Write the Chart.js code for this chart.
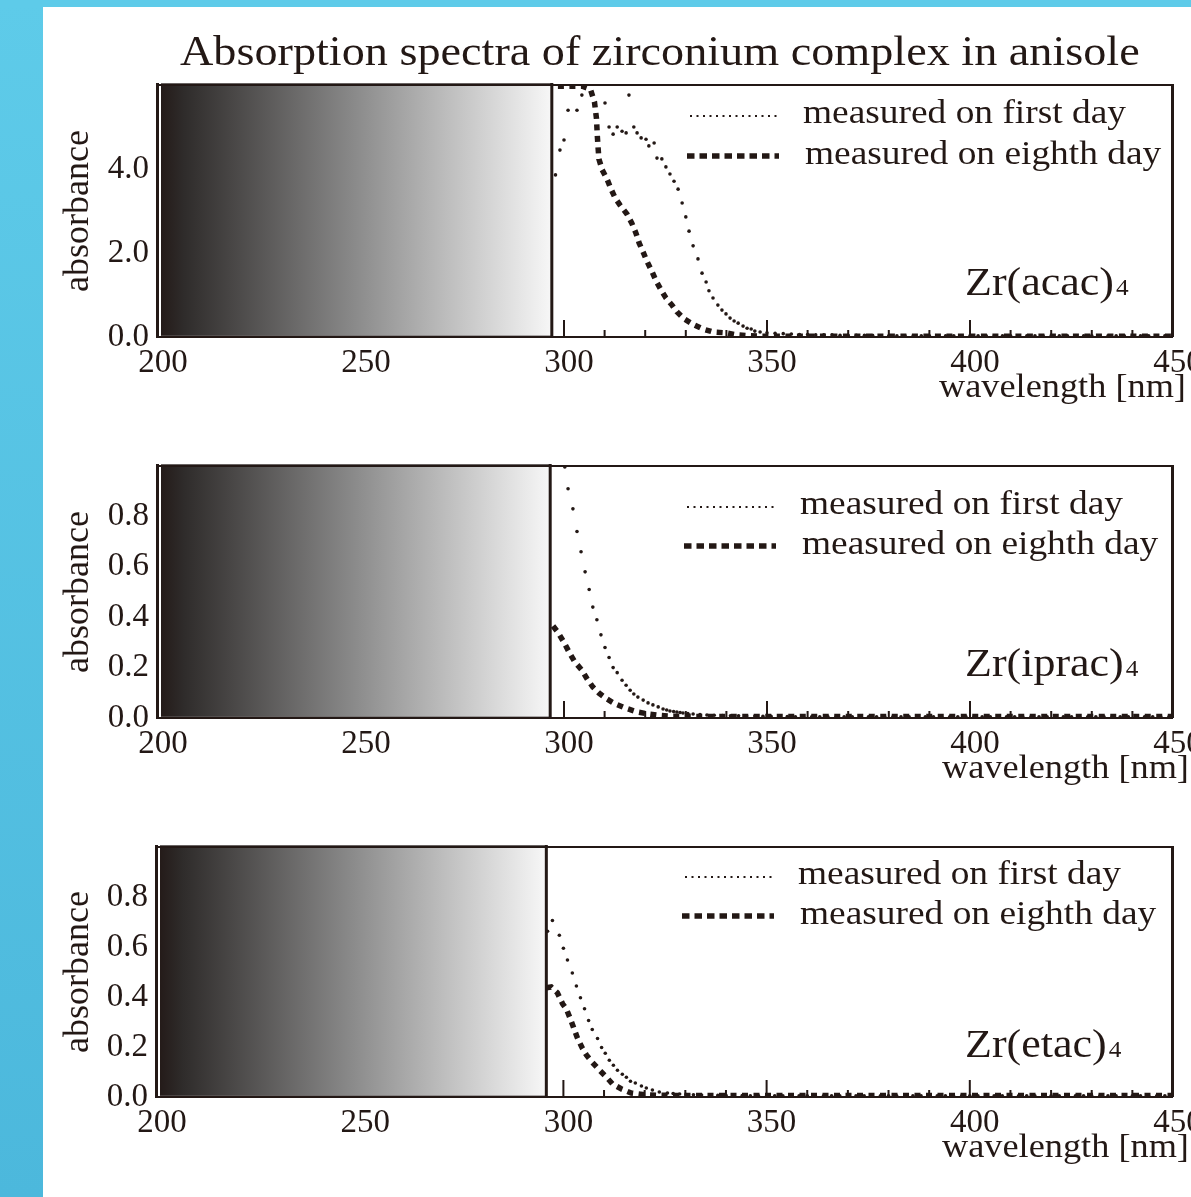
<!DOCTYPE html>
<html><head><meta charset="utf-8">
<title>Absorption spectra of zirconium complex in anisole</title>
<script src="https://cdn.jsdelivr.net/npm/chart.js@4.4.1/dist/chart.umd.min.js"></script>
<style>
html,body{margin:0;padding:0;background:#fff;width:1191px;height:1197px;overflow:hidden;position:relative}
.blue-left{position:absolute;left:0;top:0;width:43px;height:1197px;background:linear-gradient(180deg,#5ecbe9 0%,#4cb8dc 100%)}
.blue-top{position:absolute;left:0;top:0;width:1191px;height:7px;background:#5ecbe9}
canvas{position:absolute;left:0}
</style></head><body>
<div class="blue-left"></div><div class="blue-top"></div>
<canvas id="c1" width="1191" height="420" style="top:0;width:1191px;height:420px"></canvas>
<canvas id="c2" width="1191" height="380" style="top:420px;width:1191px;height:380px"></canvas>
<canvas id="c3" width="1191" height="397" style="top:800px;width:1191px;height:397px"></canvas>
<script>
// ---------------- DATA ----------------
const titleText = 'Absorption spectra of zirconium complex in anisole';
const seriesLabels = ['measured on first day', 'measured on eighth day'];
const xTitle = 'wavelength [nm]';
const yTitle = 'absorbance';
const compounds = ['Zr(acac)', 'Zr(iprac)', 'Zr(etac)'];
const compoundSub = '4';
const xRange = [200, 450];
const xTickStep = 50;
const yMaxes = [6, 1, 1];
const yTickSteps = [2, 0.2, 0.2];
const solventCutoff = [297.0, 296.6, 295.8];

// Zr(acac)4
const acacDay1Nm = [297.9, 299.0, 300.0, 301.0, 303.2, 304.4, 310.1, 311.1, 312.1, 313.1,
  314.3, 315.3, 316.0, 317.2, 318.0, 319.0, 320.2, 320.9, 322.2, 322.9,
  324.1, 325.1, 326.1, 327.1, 328.1, 329.1, 330.0, 330.8, 331.8, 333.0,
  334.0, 335.0, 335.7, 336.7, 337.9, 338.9, 339.9, 340.9, 341.9, 342.9,
  344.1, 345.1, 346.1, 347.0, 348.3,
  350, 352, 354, 356, 358, 360, 362, 364, 366, 368,
  370, 372, 374, 376, 378, 380, 382, 384, 386, 388,
  390, 392, 394, 396, 398, 400, 402, 404, 406, 408,
  410, 412, 414, 416, 418, 420, 422, 424, 426, 428,
  430, 432, 434, 436, 438, 440, 442, 444, 446, 448,
  450];
const acacDay1Abs = [3.86, 4.45, 4.69, 5.40, 5.40, 5.76, 5.57, 5.00, 4.83, 5.00,
  4.90, 4.86, 5.76, 5.00, 4.86, 4.74, 4.71, 4.55, 4.62, 4.26,
  4.24, 4.05, 3.88, 3.71, 3.52, 3.19, 2.86, 2.52, 2.17, 1.86,
  1.52, 1.31, 1.10, 0.93, 0.76, 0.64, 0.55, 0.45, 0.38, 0.33,
  0.26, 0.21, 0.19, 0.14, 0.12,
  0.10, 0.09, 0.08, 0.07, 0.06, 0.06, 0.05, 0.05, 0.05, 0.04,
  0.04, 0.04, 0.04, 0.04, 0.03, 0.03, 0.03, 0.03, 0.03, 0.03,
  0.03, 0.03, 0.03, 0.03, 0.03, 0.03, 0.03, 0.03, 0.03, 0.03,
  0.03, 0.03, 0.03, 0.03, 0.03, 0.03, 0.03, 0.03, 0.03, 0.03,
  0.03, 0.03, 0.03, 0.03, 0.03, 0.03, 0.03, 0.03, 0.03, 0.03,
  0.03];
const acacDay8Nm = [298.5, 304.5, 306.5, 307.5, 308.0, 308.2, 308.4, 308.6, 309.4, 310.6,
  311.6, 312.6, 313.8, 315.5, 316.7, 317.7, 318.5, 319.5, 320.4, 321.7,
  322.7, 323.9, 325.1, 326.6, 327.8, 329.6, 332.0, 334.2, 336.7, 339.7,
  342.6, 345.3, 348.3, 360, 380, 400, 420, 450];
const acacDay8Abs = [5.97, 5.97, 5.90, 5.60, 5.20, 4.80, 4.50, 4.24, 3.98, 3.76,
  3.52, 3.31, 3.14, 2.93, 2.71, 2.48, 2.24, 2.02, 1.81, 1.55,
  1.33, 1.12, 0.93, 0.76, 0.60, 0.43, 0.29, 0.19, 0.12, 0.10,
  0.05, 0.03, 0.02, 0.02, 0.02, 0.02, 0.02, 0.02];

// Zr(iprac)4
const ipracDay1Nm = [300.2, 301.0, 302.2, 303.2, 304.2, 305.2, 306.2, 307.1, 308.1, 309.1,
  310.1, 311.1, 312.1, 313.1, 314.3, 315.3, 316.3, 317.2, 318.2, 319.5,
  320.7, 321.9, 323.2, 324.4, 325.3, 326.1, 327.0, 327.8, 328.6, 329.3,
  330.5, 331.8, 333.5, 335.2,
  337, 339, 341, 343, 345, 347, 349, 351, 353, 355,
  357, 359, 361, 363, 365, 367, 369, 371, 373, 375,
  377, 379, 381, 383, 385, 387, 389, 391, 393, 395,
  397, 399, 401, 403, 405, 407, 409, 411, 413, 415,
  417, 419, 421, 423, 425, 427, 429, 431, 433, 435,
  437, 439, 441, 443, 445, 447, 449];
const ipracDay1Abs = [0.996, 0.91, 0.83, 0.74, 0.66, 0.58, 0.51, 0.44, 0.39, 0.33,
  0.28, 0.24, 0.20, 0.18, 0.15, 0.13, 0.11, 0.095, 0.083, 0.071,
  0.060, 0.052, 0.044, 0.036, 0.032, 0.028, 0.026, 0.024, 0.022, 0.020,
  0.018, 0.016, 0.014, 0.012,
  0.011, 0.010, 0.009, 0.009, 0.008, 0.008, 0.007, 0.007, 0.006, 0.006,
  0.005, 0.005, 0.005, 0.005, 0.005, 0.005, 0.005, 0.005, 0.005, 0.005,
  0.005, 0.005, 0.005, 0.005, 0.005, 0.005, 0.005, 0.005, 0.005, 0.005,
  0.005, 0.005, 0.005, 0.005, 0.005, 0.005, 0.005, 0.005, 0.005, 0.005,
  0.005, 0.005, 0.005, 0.005, 0.005, 0.005, 0.005, 0.005, 0.005, 0.005,
  0.005, 0.005, 0.005, 0.005, 0.005, 0.005, 0.005];
const ipracDay8Nm = [297.3, 298.5, 300.0, 301.5, 302.7, 304.4, 305.7, 307.1, 308.6, 310.6,
  312.6, 315.0, 318.0, 320.7, 323.6, 326.8, 335, 350, 380, 410, 450];
const ipracDay8Abs = [0.365, 0.34, 0.30, 0.254, 0.222, 0.19, 0.155, 0.123, 0.099, 0.075,
  0.056, 0.040, 0.024, 0.016, 0.010, 0.007, 0.006, 0.006, 0.006, 0.006, 0.006];

// Zr(etac)4
const etacDay1Nm = [296.1, 297.3, 299.0, 300.0, 301.0, 302.2, 303.2, 304.2, 305.2, 306.2,
  307.1, 308.4, 309.4, 310.3, 311.3, 312.3, 313.3, 314.5, 315.5, 316.5,
  317.7, 319.2, 320.4, 321.9, 323.6, 325.6, 327.0, 328.6, 330.2, 332.0,
  334, 336, 338, 340, 342, 344, 346, 348, 350, 352,
  354, 356, 358, 360, 362, 364, 366, 368, 370, 372,
  374, 376, 378, 380, 382, 384, 386, 388, 390, 392,
  394, 396, 398, 400, 402, 404, 406, 408, 410, 412,
  414, 416, 418, 420, 422, 424, 426, 428, 430, 432,
  434, 436, 438, 440, 442, 444, 446, 448, 450];
const etacDay1Abs = [0.663, 0.706, 0.647, 0.595, 0.548, 0.496, 0.444, 0.397, 0.353, 0.306,
  0.270, 0.234, 0.198, 0.175, 0.147, 0.127, 0.107, 0.091, 0.079, 0.063,
  0.056, 0.044, 0.036, 0.028, 0.020, 0.016, 0.014, 0.012, 0.010, 0.009,
  0.008, 0.008, 0.007, 0.007, 0.006, 0.006, 0.005, 0.005, 0.005, 0.005,
  0.005, 0.005, 0.005, 0.005, 0.005, 0.005, 0.005, 0.005, 0.005, 0.005,
  0.005, 0.005, 0.005, 0.005, 0.005, 0.005, 0.005, 0.005, 0.005, 0.005,
  0.005, 0.005, 0.005, 0.005, 0.005, 0.005, 0.005, 0.005, 0.005, 0.005,
  0.005, 0.005, 0.005, 0.005, 0.005, 0.005, 0.005, 0.005, 0.005, 0.005,
  0.005, 0.005, 0.005, 0.005, 0.005, 0.005, 0.005, 0.005, 0.005];
const etacDay8Nm = [295.8, 297.0, 298.5, 299.8, 300.7, 301.7, 302.5, 303.4, 304.7, 305.7,
  307.1, 308.9, 310.6, 312.1, 314.3, 316.7, 319.5, 322.9, 330, 350, 380, 410, 450];
const etacDay8Abs = [0.437, 0.44, 0.417, 0.373, 0.353, 0.313, 0.278, 0.238, 0.194, 0.167,
  0.139, 0.107, 0.079, 0.052, 0.032, 0.016, 0.010, 0.007, 0.006, 0.006, 0.006, 0.006, 0.006];

// ---------------- STYLE / LAYOUT ----------------
const INK = '#231815';
const FONT = "'Liberation Serif','Times New Roman',serif";
const SX = 1.1;

function zip(xs, ys) {
  const n = Math.min(xs.length, ys.length);
  const out = [];
  for (let k = 0; k < n; k++) out.push({x: xs[k], y: ys[k]});
  return out;
}

function txt(ctx, s, x, y, size, sx) {
  ctx.save();
  ctx.font = size + 'px ' + FONT;
  ctx.fillStyle = INK;
  ctx.textBaseline = 'alphabetic';
  ctx.textAlign = 'left';
  const w = ctx.measureText(s).width * sx;
  ctx.translate(x, y);
  ctx.scale(sx, 1);
  ctx.fillText(s, 0, 0);
  ctx.restore();
  return w;
}

const panels = [
  {id: 'c1', canvasH: 420, areaTop: 85, areaBottom: 337, yAxisW: 158,
   d1: [acacDay1Nm, acacDay1Abs], d8: [acacDay8Nm, acacDay8Abs],
   legendBase: [38, 79], legendTextX: 803, xTitleX: 939, mainTitle: true},
  {id: 'c2', canvasH: 380, areaTop: 46, areaBottom: 298, yAxisW: 158,
   d1: [ipracDay1Nm, ipracDay1Abs], d8: [ipracDay8Nm, ipracDay8Abs],
   legendBase: [48, 88], legendTextX: 800, xTitleX: 942, mainTitle: false},
  {id: 'c3', canvasH: 397, areaTop: 47, areaBottom: 297, yAxisW: 157,
   d1: [etacDay1Nm, etacDay1Abs], d8: [etacDay8Nm, etacDay8Abs],
   legendBase: [37, 77], legendTextX: 798, xTitleX: 942, mainTitle: false}
];

function decor(p, i) {
  return {
    id: 'decor' + i,
    beforeDatasetsDraw(chart) {
      const ctx = chart.ctx, a = chart.chartArea, xs = chart.scales.x;
      ctx.save();
      ctx.fillStyle = INK;
      for (let v = xRange[0] + 10; v < xRange[1]; v += 10) {
        const px = xs.getPixelForValue(v);
        const len = v % 50 === 0 ? 17 : 7;
        ctx.fillRect(px - 1, a.bottom - len, 2, len);
      }
      const x0 = xs.getPixelForValue(xRange[0]) + 3;
      const x1 = xs.getPixelForValue(solventCutoff[i]);
      const g = ctx.createLinearGradient(x0, 0, x1, 0);
      g.addColorStop(0, '#241b19');
      g.addColorStop(0.06, '#2f2c2b');
      g.addColorStop(0.5, '#8b8b8b');
      g.addColorStop(1, '#f7f7f7');
      ctx.fillStyle = g;
      ctx.fillRect(x0, a.top - 1, x1 - x0, a.bottom - a.top);
      ctx.fillStyle = '#6a6564';
      ctx.fillRect(x0, a.top - 2, x1 - x0, 1.5);
      ctx.fillRect(x0, a.bottom - 1.5, x1 - x0, 1.5);
      ctx.fillStyle = INK;
      ctx.fillRect(x1 - 1.5, a.top - 2, 3, a.bottom - a.top + 2);
      ctx.restore();
    },
    afterDatasetsDraw(chart) {
      const ctx = chart.ctx, a = chart.chartArea;
      ctx.save();
      ctx.fillStyle = INK;
      ctx.fillRect(a.left - 2, a.top - 2, 3, a.bottom - a.top + 3);
      ctx.fillRect(a.left, a.bottom - 1, a.right - a.left, 2);
      ctx.fillRect(a.left, a.top - 1, a.right - a.left, 2);
      ctx.fillRect(a.right - 2, a.top - 1, 3, a.bottom - a.top + 1);
      // legend
      const tx = p.legendTextX;
      const b1 = a.top + p.legendBase[0], b2 = a.top + p.legendBase[1];
      ctx.strokeStyle = INK;
      ctx.lineCap = 'butt';
      ctx.setLineDash([2, 4.5]);
      ctx.lineWidth = 2;
      ctx.beginPath(); ctx.moveTo(tx - 113, b1 - 7); ctx.lineTo(tx - 26, b1 - 7); ctx.stroke();
      ctx.setLineDash([7.5, 5]);
      ctx.lineWidth = 5.5;
      ctx.beginPath(); ctx.moveTo(tx - 116, b2 - 8); ctx.lineTo(tx - 24, b2 - 8); ctx.stroke();
      ctx.setLineDash([]);
      txt(ctx, chart.data.datasets[0].label, tx, b1, 34, SX);
      txt(ctx, chart.data.datasets[1].label, tx + 2, b2, 34, SX);
      // compound label with subscript
      const cy = a.top + 210;
      const w = txt(ctx, compounds[i], 965, cy, 40, SX);
      txt(ctx, compoundSub, 965 + w + 2, cy, 23, SX);
      // x axis title
      txt(ctx, xTitle, p.xTitleX, a.bottom + 60, 33, 1.1);
      if (p.mainTitle) txt(ctx, titleText, 180, 65, 42, SX);
      ctx.restore();
    }
  };
}

panels.forEach((p, i) => {
  const ctx = document.getElementById(p.id).getContext('2d');
  const yMax = yMaxes[i];
  new Chart(ctx, {
    type: 'line',
    data: {
      datasets: [
        {label: seriesLabels[0], data: zip(p.d1[0], p.d1[1]), showLine: false,
         pointRadius: 1.8, pointHoverRadius: 1.8, pointStyle: 'circle',
         pointBackgroundColor: INK, pointBorderColor: INK, pointBorderWidth: 0,
         borderColor: INK},
        {label: seriesLabels[1], data: zip(p.d8[0], p.d8[1]), showLine: true,
         borderColor: INK, borderWidth: 5.5, borderDash: [6, 5.5], borderCapStyle: 'butt',
         borderJoinStyle: 'miter', pointRadius: 0, pointHoverRadius: 0, tension: 0, fill: false}
      ]
    },
    options: {
      responsive: false, animation: false, devicePixelRatio: 1, events: [],
      layout: {padding: {left: 0, right: 18, top: p.areaTop, bottom: p.canvasH - p.areaBottom - 40}},
      plugins: {legend: {display: false}, tooltip: {enabled: false}, title: {display: false}},
      scales: {
        x: {type: 'linear', min: xRange[0], max: xRange[1],
            afterFit(s) { s.height = 40; s.paddingLeft = 0; s.paddingRight = 0; },
            ticks: {stepSize: xTickStep, font: {family: FONT, size: 33}, color: INK, padding: 7,
                    labelOffset: 5, maxRotation: 0, autoSkip: false, callback: v => String(v)},
            grid: {display: false, drawTicks: false}, border: {display: false}},
        y: {type: 'linear', min: 0, max: yMax,
            afterFit(s) { s.width = p.yAxisW; s.paddingTop = 0; s.paddingBottom = 0; },
            ticks: {stepSize: yTickSteps[i], font: {family: FONT, size: 33}, color: INK, padding: 9,
                    autoSkip: false,
                    callback: v => (v >= yMax - 1e-9 ? '' : Number(v).toFixed(1))},
            grid: {display: false, drawTicks: false}, border: {display: false},
            title: {display: true, text: yTitle, font: {family: FONT, size: 36}, color: INK,
                    padding: {top: 57, bottom: 0}}}
      }
    },
    plugins: [decor(p, i)]
  });
});
</script>
</body></html>
